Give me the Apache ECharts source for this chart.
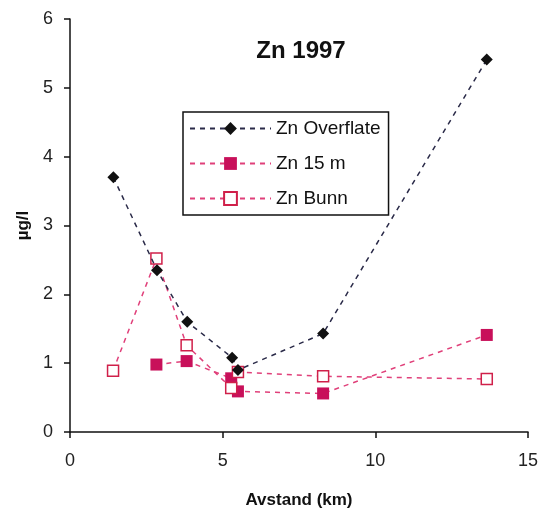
<!DOCTYPE html>
<html>
<head>
<meta charset="utf-8">
<script src="https://cdn.jsdelivr.net/npm/echarts@6/dist/echarts.min.js"></script>
<style>
  html, body { margin: 0; padding: 0; background: #fff; }
  #chart { width: 541px; height: 516px; }
</style>
</head>
<body>
<div id="chart"></div>
<script>
// Avstand (km) / µg/l pairs
const overflate = [[1.42, 3.70], [2.85, 2.35], [3.84, 1.60], [5.31, 1.08], [5.50, 0.90], [8.29, 1.43], [13.65, 5.41]];
const zn15m = [[2.83, 0.98], [3.82, 1.03], [5.28, 0.78], [5.50, 0.59], [8.29, 0.56], [13.65, 1.41]];
const bunn = [[1.41, 0.89], [2.83, 2.52], [3.82, 1.26], [5.28, 0.64], [5.50, 0.87], [8.29, 0.81], [13.65, 0.77]];
const seriesNames = ['Zn Overflate', 'Zn 15 m', 'Zn Bunn'];

const font = 'Arial, "Liberation Sans", sans-serif';

let myChart = echarts.init(document.getElementById('chart'));
myChart.setOption({
    backgroundColor: '#fff',
    animation: false,
    title: {
        text: 'Zn 1997',
        left: 296,
        top: 34,
        textAlign: 'center',
        textStyle: { fontFamily: font, fontSize: 24, fontWeight: 'bold', color: '#111' }
    },
    legend: {
        orient: 'vertical',
        left: 183,
        top: 112,
        padding: [7, 8, 7, 6],
        itemWidth: 81,
        itemHeight: 16,
        itemGap: 16,
        backgroundColor: '#fff',
        borderColor: '#111',
        borderWidth: 1.5,
        borderRadius: 0,
        data: seriesNames,
        textStyle: { fontFamily: font, fontSize: 19, color: '#111', padding: [0, 0, 0, 0] }
    },
    grid: { left: 70, right: 11, top: 19, bottom: 84 },
    xAxis: {
        type: 'value',
        min: 0, max: 15, interval: 5,
        name: 'Avstand (km)',
        nameLocation: 'middle',
        nameGap: 60,
        nameTextStyle: { fontFamily: font, fontSize: 17, fontWeight: 'bold', color: '#111' },
        axisLine: { onZero: false, lineStyle: { color: '#111', width: 1.5 } },
        axisTick: { length: 6, lineStyle: { color: '#111', width: 1.5 } },
        axisLabel: { margin: 20, fontFamily: font, fontSize: 18, color: '#222' },
        splitLine: { show: false }
    },
    yAxis: {
        type: 'value',
        min: 0, max: 6, interval: 1,
        name: 'µg/l',
        nameLocation: 'middle',
        nameGap: 36,
        nameTextStyle: { fontFamily: font, fontSize: 17, fontWeight: 'bold', color: '#111' },
        axisLine: { show: true, lineStyle: { color: '#111', width: 1.5 } },
        axisTick: { show: true, length: 6, lineStyle: { color: '#111', width: 1.5 } },
        axisLabel: { margin: 17, fontFamily: font, fontSize: 18, color: '#222' },
        splitLine: { show: false }
    },
    series: [
        {
            name: seriesNames[0],
            type: 'line',
            data: overflate,
            symbol: 'diamond',
            symbolSize: 12,
            itemStyle: { color: '#111', borderWidth: 0 },
            lineStyle: { color: '#2a2a48', width: 1.5, type: [5, 5] },
            z: 3
        },
        {
            name: seriesNames[1],
            type: 'line',
            data: zn15m,
            symbol: 'rect',
            symbolSize: 12,
            itemStyle: { color: '#c8105a', borderWidth: 0 },
            lineStyle: { color: '#e0407a', width: 1.5, type: [5, 5] },
            z: 2
        },
        {
            name: seriesNames[2],
            type: 'line',
            data: bunn,
            symbol: 'rect',
            symbolSize: 11,
            itemStyle: { color: '#fff', borderColor: '#d0204a', borderWidth: 1.5 },
            lineStyle: { color: '#e0407a', width: 1.5, type: [5, 5] },
            z: 2
        }
    ]
});
</script>
</body>
</html>
